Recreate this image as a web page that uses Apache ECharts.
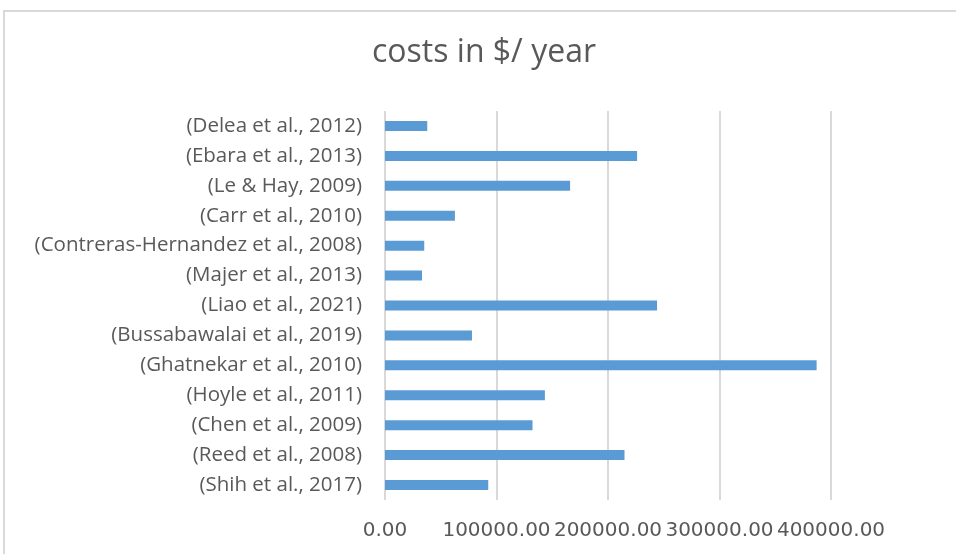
<!DOCTYPE html>
<html>
<head>
<meta charset="utf-8">
<script src="https://cdn.jsdelivr.net/npm/echarts@6/dist/echarts.min.js"></script>
<style>
    html, body { margin: 0; padding: 0; background: #fff; }
    #cn { width: 956px; height: 554px; }
</style>
</head>
<body>
<div id="cn"></div>
<script>
'use strict';

// 上から順に並ぶ（inverseで表示）
const arrStudy = [
    '(Delea et al., 2012)',
    '(Ebara et al., 2013)',
    '(Le & Hay, 2009)',
    '(Carr et al., 2010)',
    '(Contreras-Hernandez et al., 2008)',
    '(Majer et al., 2013)',
    '(Liao et al., 2021)',
    '(Bussabawalai et al., 2019)',
    '(Ghatnekar et al., 2010)',
    '(Hoyle et al., 2011)',
    '(Chen et al., 2009)',
    '(Reed et al., 2008)',
    '(Shih et al., 2017)'
];

const arrCost = [37900, 226100, 166000, 62700, 35200, 33200, 244000, 78000, 387100, 143400, 132300, 214800, 92600];

const strTitle = 'costs in $/ year';
const strFont = '"Open Sans"';
const strGray = '#595959';

const myChart = echarts.init(document.getElementById('cn'));

const option = {
    animation: false,
    backgroundColor: '#fff',
    title: {
        text: strTitle,
        left: 367,
        top: 32,
        textStyle: {
            fontFamily: strFont,
            fontSize: 32,
            fontWeight: 'normal',
            color: strGray
        }
    },
    graphic: [{
        type: 'rect',
        shape: { x: 4, y: 11, width: 1000, height: 600 },
        style: { fill: 'none', stroke: '#d9d9d9', lineWidth: 2 },
        silent: true
    }],
    grid: {
        left: 385,
        right: 125,
        top: 111,
        bottom: 54
    },
    xAxis: {
        type: 'value',
        min: 0,
        max: 400000,
        interval: 100000,
        axisLine: { show: false },
        axisTick: { show: false },
        splitLine: {
            show: true,
            lineStyle: { color: '#d9d9d9', width: 2 }
        },
        axisLabel: {
            margin: 21,
            fontFamily: '"DejaVu Sans"',
            fontSize: 20,
            color: strGray,
            formatter: v => v.toFixed(2)
        }
    },
    yAxis: {
        type: 'category',
        inverse: true,
        data: arrStudy,
        axisLine: { show: false },
        axisTick: { show: false },
        axisLabel: {
            margin: 23,
            fontFamily: strFont,
            fontSize: 20.5,
            color: strGray
        }
    },
    series: [{
        name: 'costs',
        type: 'bar',
        data: arrCost,
        barWidth: 10,
        itemStyle: { color: '#5b9bd5' }
    }]
};

myChart.setOption(option);
</script>
</body>
</html>
